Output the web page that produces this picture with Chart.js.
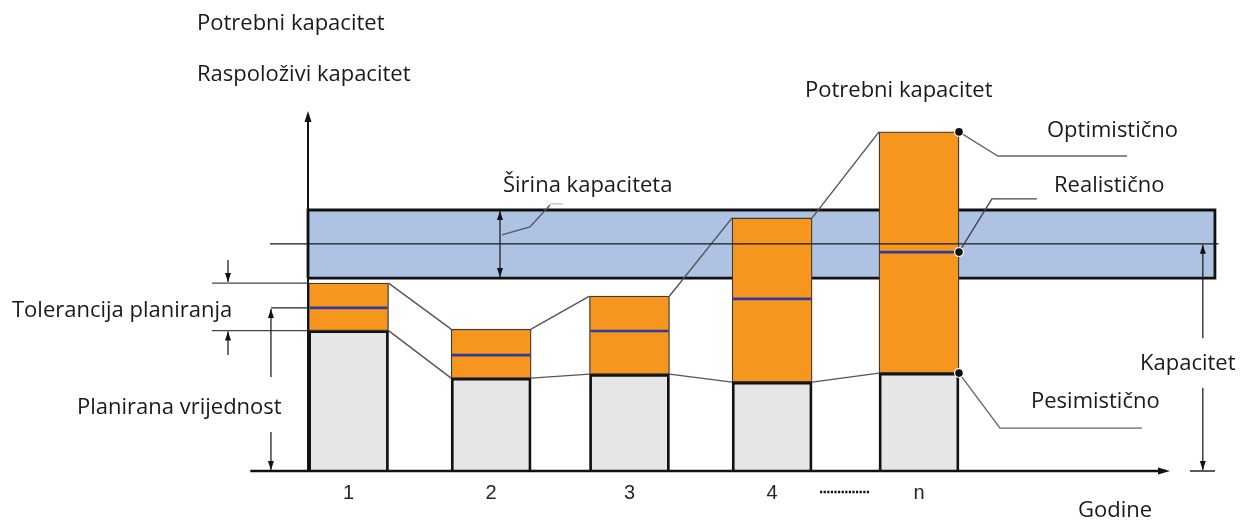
<!DOCTYPE html>
<html>
<head>
<meta charset="utf-8">
<script src="https://cdn.jsdelivr.net/npm/chart.js@4.4.1/dist/chart.umd.min.js"></script>
<style>
html,body{margin:0;padding:0;background:#fff;overflow:hidden;}
#wrap{width:1241px;height:520px;position:relative;overflow:hidden;}
#c{display:block;}
</style>
</head>
<body>
<div id="wrap"><canvas id="c" width="1241" height="520" style="width:1241px;height:520px"></canvas></div>
<script>
// ---- data ----
const categories   = ['1', '2', '3', '4', 'n'];          // years (Godine)
const positions    = [1, 2, 2.97, 3.97, 5];              // x position of each year
const pessimistic  = [39.0, 25.8, 26.9, 24.7, 27.2];     // Pesimistično (planned value)
const realistic    = [45.3, 32.2, 38.9, 47.8, 60.8];     // Realistično
const optimistic   = [52.2, 39.4, 48.6, 70.3, 94.2];     // Optimistično
const capacityBand = [53.6, 72.5];                       // Raspoloživi kapacitet (širina)
const capacityMid  = [63.1];                             // Kapacitet level

// ---- geometry helpers (not data) ----
const HW = 0.2805;          // half bar width in x units
const BAND_X = [0.716, 7.075];
const MID_X = [0.449, 7.1];
const YAXIS_X = 0.716;
const XAXIS_X = [0.311, 6.76];

const barPts = (lo, hi) => positions.map((p, i) => ({x: p, y: [lo[i], hi[i]]}));
const zeros = positions.map(() => 0);

function connectors(vals) {
  const out = [];
  for (let i = 0; i < positions.length - 1; i++) {
    out.push({x: positions[i] + HW, y: vals[i]});
    out.push({x: positions[i + 1] - HW, y: vals[i + 1]});
    out.push({x: (positions[i] + positions[i + 1]) / 2, y: null});
  }
  return out;
}

const annot = {
  id: 'annot',
  afterDatasetsDraw(chart) {
    const ctx = chart.ctx, xs = chart.scales.x, ys = chart.scales.y;
    const X = v => xs.getPixelForValue(v), Y = v => ys.getPixelForValue(v);
    ctx.save();
    const line = (pts, color, w) => {
      ctx.beginPath();
      ctx.strokeStyle = color; ctx.lineWidth = w;
      pts.forEach((p, i) => i ? ctx.lineTo(p[0], p[1]) : ctx.moveTo(p[0], p[1]));
      ctx.stroke();
    };
    const head = (x, y, dir, L = 10, W = 3.5) => {
      ctx.beginPath(); ctx.fillStyle = '#111';
      if (dir === 'up')   { ctx.moveTo(x, y); ctx.lineTo(x - W, y + L); ctx.lineTo(x + W, y + L); }
      if (dir === 'down') { ctx.moveTo(x, y); ctx.lineTo(x - W, y - L); ctx.lineTo(x + W, y - L); }
      if (dir === 'right'){ ctx.moveTo(x, y); ctx.lineTo(x - L, y - W); ctx.lineTo(x - L, y + W); }
      ctx.closePath(); ctx.fill();
    };
    const arrow = (x, y0, y1, color = '#222', w = 1.3) => { // tip at y1
      line([[x, y0], [x, y1]], color, w);
      head(x, y1, y1 < y0 ? 'up' : 'down', 9, 3);
    };
    const dot = (x, y) => {
      ctx.beginPath(); ctx.arc(x, y, 5, 0, Math.PI * 2);
      ctx.fillStyle = '#fff'; ctx.fill();
      ctx.beginPath(); ctx.arc(x, y, 3.8, 0, Math.PI * 2);
      ctx.fillStyle = '#111'; ctx.fill();
    };

    // axis arrowheads
    head(X(YAXIS_X), Y(100) , 'up', 11, 3.5);
    head(X(XAXIS_X[1]), Y(0), 'right', 12, 3.5);

    // left dimension lines (Tolerancija planiranja / Planirana vrijednost)
    const gc = '#444';
    line([[X(0.043), Y(optimistic[0])], [X(YAXIS_X), Y(optimistic[0])]], gc, 1.4);
    line([[X(0.043), Y(pessimistic[0])], [X(YAXIS_X), Y(pessimistic[0])]], gc, 1.4);
    line([[X(0.456), Y(realistic[0])], [X(YAXIS_X), Y(realistic[0])]], '#222', 1.4);
    arrow(X(0.155), Y(58.6), Y(optimistic[0]) - 1);
    arrow(X(0.155), Y(32.2), Y(pessimistic[0]) + 1);
    arrow(X(0.456), Y(26.1), Y(realistic[0]) + 1);
    arrow(X(0.456), Y(10.8), Y(0) - 1);

    // capacity width double arrow
    const wx = X(2.062);
    arrow(wx, Y(63), Y(capacityBand[1]) + 1);
    arrow(wx, Y(63), Y(capacityBand[0]) - 1);
    line([[X(2.076), Y(65.6)], [X(2.272), Y(67.8)], [X(2.413), Y(73.9)]], '#555', 1.3);
    line([[X(2.413), Y(74.2)], [X(2.504), Y(74.2)]], '#bbb', 1.2);

    // Kapacitet arrow
    const kx = X(6.99);
    arrow(kx, Y(36.9), Y(capacityMid[0]) + 1);
    arrow(kx, Y(23.1), Y(0) - 1);
    line([[X(6.90), Y(0)], [X(7.075), Y(0)]], '#222', 1.5);

    // leaders to scenario labels from bar n
    const n = positions.length - 1;
    const ex = X(positions[n] + HW);
    line([[ex, Y(optimistic[n])], [X(5.553), Y(87.5)], [X(6.459), Y(87.5)]], '#666', 1.4);
    line([[ex, Y(realistic[n])], [X(5.511), Y(75.6)], [X(5.826), Y(75.6)]], '#444', 1.4);
    line([[ex, Y(pessimistic[n])], [X(5.568), Y(11.9)], [X(6.563), Y(11.9)]], '#666', 1.4);
    dot(ex, Y(optimistic[n]));
    dot(ex, Y(realistic[n]));
    dot(ex, Y(pessimistic[n]));

    // category labels under the axis
    ctx.fillStyle = '#262626';
    ctx.font = '20px "Liberation Sans", Arial';
    ctx.textAlign = 'center';
    ctx.textBaseline = 'middle';
    categories.forEach((c, i) => ctx.fillText(c, X(positions[i]), Y(0) + 22));

    // dotted separator between 4 and n
    ctx.setLineDash([2.2, 1.4]);
    line([[X(4.306), Y(0) + 21], [X(4.657), Y(0) + 21]], '#111', 2.6);
    ctx.setLineDash([]);

    // texts
    ctx.fillStyle = '#1a1a1a';
    ctx.font = '22px "Open Sans"';
    ctx.textBaseline = 'middle';
    ctx.textAlign = 'left';
    const texts = [
      ['Potrebni kapacitet', 197, 24],
      ['Raspoloživi kapacitet', 197, 75],
      ['Potrebni kapacitet', 805, 91],
      ['Širina kapaciteta', 503, 186],
      ['Optimistično', 1047, 131],
      ['Realistično', 1054, 186],
      ['Tolerancija planiranja', 12, 311],
      ['Planirana vrijednost', 77, 408],
      ['Kapacitet', 1140, 364],
      ['Pesimistično', 1031, 402],
      ['Godine', 1078, 511]
    ];
    texts.forEach(t => ctx.fillText(t[0], t[1], t[2]));
    ctx.restore();
  }
};

new Chart(document.getElementById('c'), {
  type: 'bar',
  data: {
    datasets: [
      { // band fill top
        type: 'line', label: 'bandTop', order: 20, clip: false,
        data: [{x: BAND_X[0], y: capacityBand[1]}, {x: BAND_X[1], y: capacityBand[1]}],
        borderWidth: 0, pointRadius: 0, backgroundColor: '#aec2e3', fill: '+1'
      },
      {
        type: 'line', label: 'bandBottom', order: 21, clip: false,
        data: [{x: BAND_X[0], y: capacityBand[0]}, {x: BAND_X[1], y: capacityBand[0]}],
        borderWidth: 0, pointRadius: 0, fill: false
      },
      { // band outline
        type: 'line', label: 'bandOutline', order: 19, clip: false,
        data: [{x: BAND_X[0], y: capacityBand[0]}, {x: BAND_X[0], y: capacityBand[1]},
               {x: BAND_X[1], y: capacityBand[1]}, {x: BAND_X[1], y: capacityBand[0]},
               {x: BAND_X[0], y: capacityBand[0]}],
        borderColor: '#111', borderWidth: 2.8, pointRadius: 0, fill: false, tension: 0
      },
      { // connectors top
        type: 'line', label: 'connOpt', order: 15, clip: false,
        data: connectors(optimistic), spanGaps: false,
        borderColor: '#555', borderWidth: 1.4, pointRadius: 0, fill: false
      },
      {
        type: 'line', label: 'connPess', order: 15, clip: false,
        data: connectors(pessimistic), spanGaps: false,
        borderColor: '#555', borderWidth: 1.4, pointRadius: 0, fill: false
      },
      { // planned value (grey)
        type: 'bar', label: 'Planirana vrijednost', order: 10, grouped: false,
        data: barPts(zeros, pessimistic), barThickness: 80,
        backgroundColor: '#e6e6e6', borderColor: '#111', borderWidth: 2.8, borderSkipped: 'bottom'
      },
      { // tolerance (orange)
        type: 'bar', label: 'Tolerancija', order: 9, grouped: false,
        data: barPts(pessimistic, optimistic), barThickness: 80,
        backgroundColor: '#f7961f', borderColor: '#3a3a3a', borderWidth: 1.3, borderSkipped: false
      },
      { // realistic marks
        type: 'line', label: 'Realistično', order: 8, clip: false, showLine: false,
        data: positions.map((p, i) => ({x: p, y: realistic[i]})),
        pointStyle: 'line', pointRadius: 39, pointHoverRadius: 39,
        pointBorderColor: '#2f3c9c', pointBorderWidth: 2.6, borderColor: '#2f3c9c'
      },
      { // capacity mid line
        type: 'line', label: 'Kapacitet', order: 5, clip: false,
        data: [{x: MID_X[0], y: capacityMid[0]}, {x: MID_X[1], y: capacityMid[0]}],
        borderColor: '#1a1a1a', borderWidth: 1.3, pointRadius: 0, fill: false
      },
      { // y axis line
        type: 'line', label: 'yaxis', order: 2, clip: false,
        data: [{x: YAXIS_X, y: 0}, {x: YAXIS_X, y: 97}],
        borderColor: '#111', borderWidth: 2, pointRadius: 0, fill: false
      },
      { // x axis line
        type: 'line', label: 'xaxis', order: 1, clip: false,
        data: [{x: XAXIS_X[0], y: 0}, {x: XAXIS_X[1] - 0.06, y: 0}],
        borderColor: '#111', borderWidth: 2.6, pointRadius: 0, fill: false
      }
    ]
  },
  options: {
    responsive: false,
    devicePixelRatio: 1,
    animation: false,
    events: [],
    layout: { autoPadding: false, padding: { left: 205.9, right: 22.5, top: 111, bottom: 49 } },
    plugins: { legend: { display: false }, tooltip: { enabled: false } },
    scales: {
      x: { type: 'linear', min: 0, max: 7.1, display: false, offset: false },
      y: { type: 'linear', min: 0, max: 100, display: false }
    }
  },
  plugins: [annot]
});
</script>
</body>
</html>
